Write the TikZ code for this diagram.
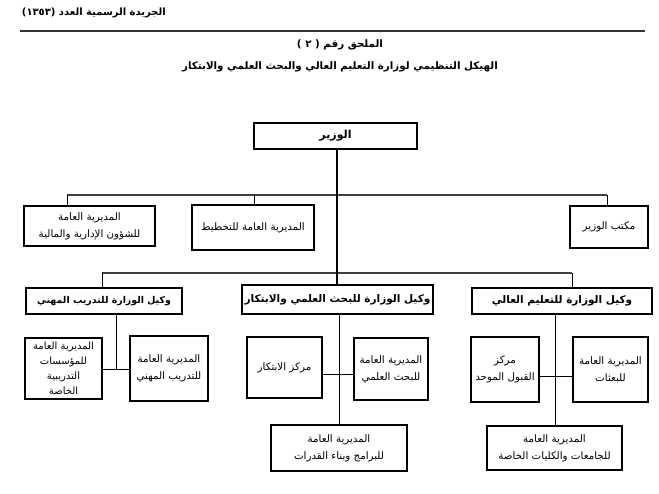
\documentclass[tikz,border=0pt]{standalone}
\usepackage{fontspec}
\TeXXeTstate=1
\newfontfamily\arabicfont[Script=Arabic]{DejaVu Sans}
\newcommand{\ar}[1]{{\arabicfont\beginR #1\endR}}
\begin{document}
\begin{tikzpicture}[x=1pt,y=-1pt,
  box/.style={draw=black, line width=1.1pt, rectangle, inner sep=0pt, align=center, font=\arabicfont\fontsize{10.3}{17}\selectfont},
  vbox/.style={box, font=\arabicfont\bfseries\fontsize{10.5}{12}\selectfont},
  bus/.style={draw=black!75, line width=1.8pt},
  link/.style={draw=black, line width=1pt}]
\useasboundingbox (0,0) rectangle (659,493);
% header
\node[anchor=east, inner sep=0pt, font=\arabicfont\bfseries\fontsize{10}{12}\selectfont] (hdr) at (166,13) {\ar{الجريدة الرسمية العدد (١٣٥٣)}};
\coordinate (rl) at (20,31);
\coordinate (rr) at (645,31);
\draw[black!80, line width=1.4pt] (rl) -- (rr);
\node[inner sep=0pt, font=\arabicfont\bfseries\fontsize{10.3}{12}\selectfont] (t1) at (340,44.5) {\ar{الملحق رقم ( ٢ )}};
\node[inner sep=0pt, font=\arabicfont\bfseries\fontsize{10.3}{12}\selectfont] (t2) at (340,67) {\ar{الهيكل التنظيمي لوزارة التعليم العالي والبحث العلمي والابتكار}};
% minister
\node[box, line width=2.6pt, minimum width=163pt, minimum height=26pt, font=\arabicfont\bfseries\fontsize{11}{12}\selectfont] (min) at (335.5,136) {\ar{الوزير}};
% row 1
\node[box, minimum width=131pt, minimum height=40pt] (r1a) at (89.5,226) {\ar{المديرية العامة}\\\ar{للشؤون الإدارية والمالية}};
\node[box, minimum width=122pt, minimum height=45pt] (r1b) at (253,227.5) {\ar{المديرية العامة للتخطيط}};
\node[box, minimum width=78pt, minimum height=42pt] (r1c) at (609,227) {\ar{مكتب الوزير}};
\coordinate (b1l) at (67,195);
\coordinate (b1r) at (607,195);
\coordinate (b1m) at (254,195);
\coordinate (b2l) at (102,273);
\coordinate (b2r) at (572,273);
\coordinate (b2m) at (337,273);
\draw[bus] (b1l) -- (b1r);
\draw[bus] (b2l) -- (b2r);
\draw[link] (b1l) -- (b1l |- r1a.north);
\draw[link] (b1m) -- (b1m |- r1b.north);
\draw[link] (b1r) -- (b1r |- r1c.north);
% vice ministers
\node[vbox, minimum width=156pt, minimum height=26pt, font=\arabicfont\bfseries\fontsize{9.4}{12}\selectfont] (vL) at (104,301) {\ar{وكيل الوزارة للتدريب المهني}};
\node[vbox, minimum width=191pt, minimum height=29pt] (vM) at (337.5,299.5) {\ar{وكيل الوزارة للبحث العلمي والابتكار}};
\node[vbox, minimum width=180pt, minimum height=26pt] (vR) at (562,301) {\ar{وكيل الوزارة للتعليم العالي}};
\draw[link, line width=1.2pt] (min.south -| b2m) -- (b2m |- vM.north);
\draw[link] (b2l) -- (b2l |- vL.north);
\draw[link] (b2r) -- (b2r |- vR.north);
% left group
\node[box, minimum width=77pt, minimum height=61pt, font=\arabicfont\fontsize{10}{15}\selectfont] (sL1) at (63.5,368.5) {\ar{المديرية العامة}\\\ar{للمؤسسات}\\\ar{التدريبية}\\\ar{الخاصة}};
\node[box, minimum width=78pt, minimum height=65pt] (sL2) at (169,368.5) {\ar{المديرية العامة}\\\ar{للتدريب المهني}};
\coordinate (jL) at (116,369);
\draw[link] (vL.south -| jL) -- (jL);
\draw[link] (sL1.east |- jL) -- (sL2.west |- jL);
% middle group
\node[box, minimum width=75pt, minimum height=61pt] (sM1) at (284.5,367.5) {\ar{مركز الابتكار}};
\node[box, minimum width=74pt, minimum height=62pt] (sM2) at (391,369) {\ar{المديرية العامة}\\\ar{للبحث العلمي}};
\node[box, minimum width=136pt, minimum height=46pt] (bM) at (339,448) {\ar{المديرية العامة}\\\ar{للبرامج وبناء القدرات}};
\coordinate (jM) at (339,374);
\draw[link] (vM.south -| jM) -- (bM.north);
\draw[link] (sM1.east |- jM) -- (sM2.west |- jM);
% right group
\node[box, minimum width=68pt, minimum height=65pt] (sR1) at (505,369.5) {\ar{مركز}\\\ar{القبول الموحد}};
\node[box, minimum width=75pt, minimum height=65pt] (sR2) at (610.5,369.5) {\ar{المديرية العامة}\\\ar{للبعثات}};
\node[box, minimum width=135pt, minimum height=44pt] (bR) at (554.5,448) {\ar{المديرية العامة}\\\ar{للجامعات والكليات الخاصة}};
\coordinate (jR) at (555,376);
\draw[link] (vR.south -| jR) -- (bR.north -| jR);
\draw[link] (sR1.east |- jR) -- (sR2.west |- jR);
\end{tikzpicture}
\end{document}
